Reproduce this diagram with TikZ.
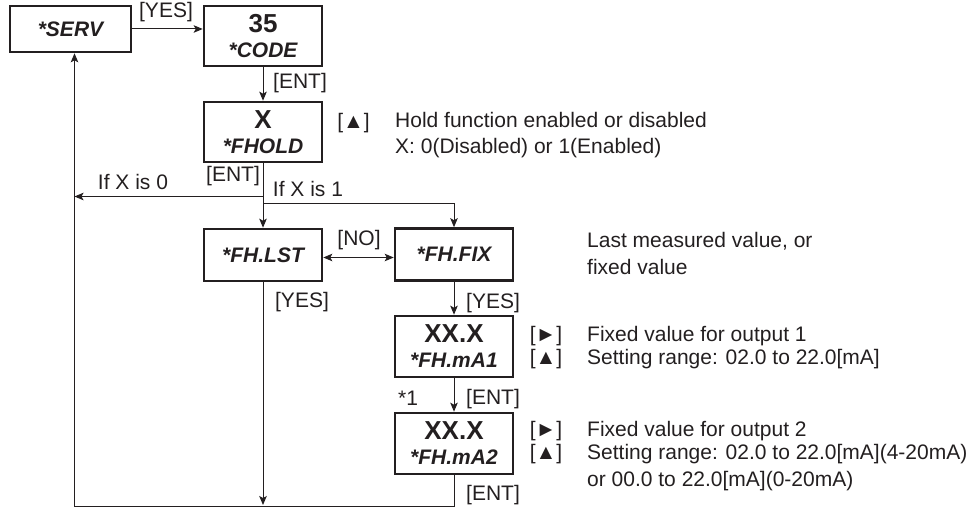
\documentclass[tikz,border=0pt]{standalone}
\usepackage{fontspec}
\setmainfont{Liberation Sans}
\usetikzlibrary{arrows.meta}
\definecolor{ink}{RGB}{35,31,32}
\newcommand\bignum[1]{{\fontsize{26}{25}\selectfont\bfseries #1}}
\newcommand\boxlab[1]{{\bfseries\itshape #1}}
\begin{document}
\begin{tikzpicture}[x=1pt,y=-1pt,
  font=\fontsize{21}{25}\selectfont,
  box/.style={draw=ink,line width=2.6pt,minimum width=118pt,minimum height=60pt,inner sep=0pt,align=center,text=ink},
  lab/.style={text=ink,inner sep=0pt,anchor=base},
  desc/.style={text=ink,inner sep=0pt,anchor=base west},
  conn/.style={draw=ink,line width=1pt},
  tip/.tip={Stealth[length=9pt,width=7.5pt,inset=2pt]},
  arr/.style={conn,-tip},
  darr/.style={conn,tip-tip}]
\useasboundingbox (0,0) rectangle (973,510);
% boxes
\node[box,minimum width=121pt,minimum height=46pt] (serv) at (70.5,29) {\boxlab{*SERV}};
\node[box] (code) at (263,36) {\bignum{35}\\\boxlab{*CODE}};
\node[box] (fhold) at (263,132) {\bignum{X}\\\boxlab{*FHOLD}};
\node[box,minimum height=52pt] (fhlst) at (263,255) {\boxlab{*FH.LST}};
\node[box,minimum height=52pt] (fhfix) at (454,254.5) {\boxlab{*FH.FIX}};
\node[box,minimum height=61pt] (ma1) at (454,346.5) {\bignum{XX.X}\\\boxlab{*FH.mA1}};
\node[box,minimum height=61pt] (ma2) at (454,443.5) {\bignum{XX.X}\\\boxlab{*FH.mA2}};
% coordinates
\coordinate (j0) at (263,196.5);
\coordinate (j1) at (263,203.5);
\coordinate (lx) at (74.5,196.5);
\coordinate (b0) at (263,505);
\coordinate (c1) at (454,506.5);
\coordinate (c2) at (74.5,506.5);
% connectors
\draw[arr] (serv.east) -- (serv.east -| code.west);
\draw[arr] (code.south) -- (fhold.north);
\draw[conn] (fhold.south) -- (j1);
\draw[arr] (j0) -- (lx);
\draw[arr] (j1) -- (fhlst.north);
\draw[arr] (j1) -| (fhfix.north);
\draw[darr] ([yshift=-2.5pt]fhlst.east) -- ([yshift=-2.5pt]fhlst.east -| fhfix.west);
\draw[arr] (fhlst.south) -- (b0);
\draw[arr] (fhfix.south) -- (ma1.north);
\draw[arr] (ma1.south) -- (ma2.north);
\draw[arr] (ma2.south) -- (c1) -- (c2) -- (c2 |- serv.south);
% labels
\node[lab] (yes1) at (166,17.5) {[YES]};
\node[lab] (ent1) at (300,89) {[ENT]};
\node[lab] (ent2) at (233,182) {[ENT]};
\node[lab] (if0) at (133,189.5) {If X is 0};
\node[lab] (if1) at (308,197) {If X is 1};
\node[lab] (no) at (359,246) {[NO]};
\node[lab] (yes2) at (302,307) {[YES]};
\node[lab] (yes3) at (493,308) {[YES]};
\node[lab] (star1) at (408,405) {*1};
\node[lab] (ent3) at (493,404) {[ENT]};
\node[lab] (ent4) at (493,500) {[ENT]};
% descriptions
\node[lab] (up0) at (353.5,129) {[▲]};
\node[desc] (d1) at (395,128) {Hold function enabled or disabled};
\node[desc] (d2) at (395,154) {X: 0(Disabled) or 1(Enabled)};
\node[desc] (d3) at (587,248) {Last measured value, or};
\node[desc] (d4) at (587,274) {fixed value};
\node[lab] (rt1) at (546,341) {[►]};
\node[lab] (up1) at (546,364) {[▲]};
\node[desc] (d5) at (587,341) {Fixed value for output 1};
\node[desc] (d6) at (587,364) {Setting range: 02.0 to 22.0[mA]};
\node[lab] (rt2) at (546,436) {[►]};
\node[lab] (up2) at (546,459) {[▲]};
\node[desc] (d7) at (587,436) {Fixed value for output 2};
\node[desc] (d8) at (587,459) {Setting range: 02.0 to 22.0[mA](4-20mA)};
\node[desc] (d9) at (587,486) {or 00.0 to 22.0[mA](0-20mA)};
\end{tikzpicture}
\end{document}
